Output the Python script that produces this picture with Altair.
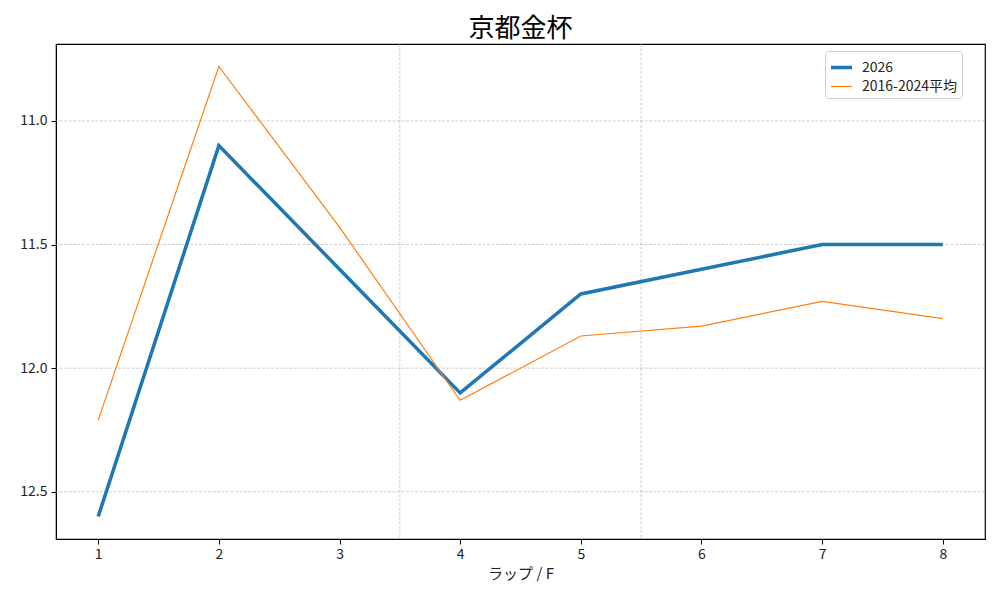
import altair as alt
import pandas as pd

laps = [1, 2, 3, 4, 5, 6, 7, 8]
series_2026 = [12.6, 11.1, 11.6, 12.1, 11.7, 11.6, 11.5, 11.5]
series_avg = [12.21, 10.78, 11.43, 12.13, 11.87, 11.83, 11.73, 11.80]
names = ["2026", "2016-2024平均"]
y_ticks = [11.0, 11.5, 12.0, 12.5]
v_lines = [3.5, 5.5]

rows = []
for i, lap in enumerate(laps):
    rows.append({"lap": lap, "time": series_2026[i], "series": names[0], "ord": 0})
for i, lap in enumerate(laps):
    rows.append({"lap": lap, "time": series_avg[i], "series": names[1], "ord": 1})
df = pd.DataFrame(rows)
vdf = pd.DataFrame({"x": v_lines})
hdf = pd.DataFrame({"y": y_ticks})

FONT = "Noto Sans CJK JP"
xscale = alt.Scale(domain=[0.65, 8.35], nice=False, zero=False)
yscale = alt.Scale(domain=[10.689, 12.691], nice=False, zero=False, reverse=True)

vgrid = alt.Chart(vdf).mark_rule(color="#b0b0b0", strokeWidth=0.8, strokeDash=[3, 1.5], opacity=0.8).encode(
    x=alt.X("x:Q", scale=xscale)
)
hgrid = alt.Chart(hdf).mark_rule(color="#b0b0b0", strokeWidth=0.8, strokeDash=[3, 1.5], opacity=0.8).encode(
    y=alt.Y("y:Q", scale=yscale)
)

leg = dict(title=None, orient="none", legendX=769, legendY=7,
           symbolType="stroke", symbolSize=441,
           labelFontSize=14, labelColor="#222",
           fillColor="white", strokeColor="#cccccc",
           padding=4, cornerRadius=3, rowPadding=0, labelOffset=8)

lines = alt.Chart(df).mark_line().encode(
    x=alt.X("lap:Q", scale=xscale,
            axis=alt.Axis(values=laps, format="d", title="ラップ / F", grid=False,
                          tickColor="black", domainColor="black", labelColor="#222",
                          labelFontSize=14, titleFontSize=15, titleFontWeight="normal",
                          titleColor="#222", tickSize=5, labelPadding=3, titlePadding=5)),
    y=alt.Y("time:Q", scale=yscale,
            axis=alt.Axis(values=y_ticks, format=".1f", title=None, grid=False,
                          tickColor="black", domainColor="black", labelColor="#222",
                          labelFontSize=14, tickSize=5, labelPadding=4)),
    color=alt.Color("series:N",
                    scale=alt.Scale(domain=names, range=["#1f77b4", "#ff7f0e"]),
                    legend=alt.Legend(**leg)),
    strokeWidth=alt.StrokeWidth("series:N",
                                scale=alt.Scale(domain=names, range=[3.5, 1.2]),
                                legend=alt.Legend(**leg)),
    order=alt.Order("ord:Q"),
    detail="series:N",
)

chart = alt.layer(vgrid, hgrid, lines).properties(
    width=929,
    height=495,
    autosize=alt.AutoSizeParams(type="none"),
    padding={"left": 48, "top": 36, "right": 7, "bottom": 53},
    title=alt.Title("京都金杯", fontSize=26, font=FONT, fontWeight="normal", color="black", offset=2),
).configure(font=FONT).configure_view(stroke="black", strokeWidth=1.2)

chart.save("out.html", embed_options={"renderer": "svg", "actions": False})
